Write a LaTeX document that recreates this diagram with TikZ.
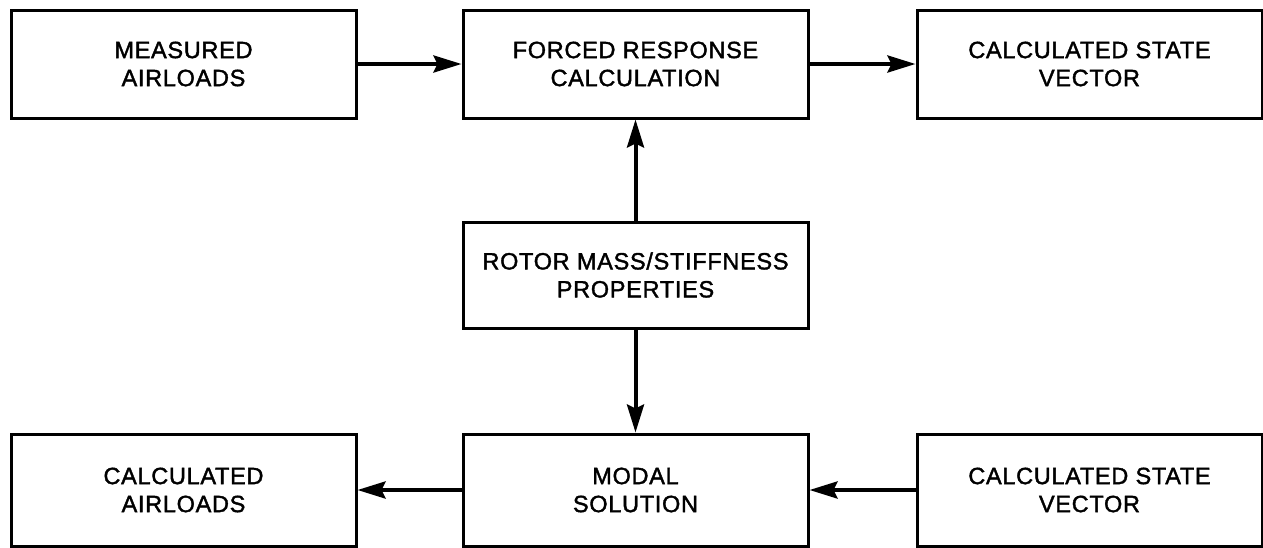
\documentclass[tikz,border=0pt]{standalone}
\usepackage{fontspec}
\setmainfont{Liberation Sans}[LetterSpace=3]
\newfontfamily\medfont{Liberation Sans}[LetterSpace=3, FakeBold=1.6]
\usetikzlibrary{arrows.meta}
\tikzset{
  blk/.style={draw=black, line width=3pt, fill=white, align=center,
    minimum width=345pt, minimum height=108pt, inner sep=0pt,
    font=\medfont\fontsize{23.5}{28}\selectfont},
  flow/.style={line width=4pt, -{Stealth[length=28pt, width=17pt, inset=4pt]}}
}
\begin{document}
\begin{tikzpicture}[x=1pt, y=-1pt]
  \useasboundingbox (0,0) rectangle (1263,547);
  % top row
  \node[blk] (meas)  at (183.5,64)  {MEASURED\\AIRLOADS};
  \node[blk] (force) at (635.5,64)  {FORCED RESPONSE\\CALCULATION};
  \node[blk] (state1) at (1089.5,64) {CALCULATED STATE\\VECTOR};
  % centre
  \node[blk, minimum height=106pt] (rotor) at (635.5,275) {ROTOR MASS/STIFFNESS\\PROPERTIES};
  % bottom row
  \node[blk, minimum height=112pt] (calc)  at (183.5,490) {CALCULATED\\AIRLOADS};
  \node[blk, minimum height=112pt] (modal) at (635.5,490) {MODAL\\SOLUTION};
  \node[blk, minimum height=112pt] (state2) at (1089.5,490) {CALCULATED STATE\\VECTOR};
  % connectors
  \draw[flow] (meas.east) -- (force.west);
  \draw[flow] (force.east) -- (state1.west);
  \draw[flow] (rotor.north) -- (force.south);
  \draw[flow] (rotor.south) -- (modal.north);
  \draw[flow] (modal.west) -- (calc.east);
  \draw[flow] (state2.west) -- (modal.east);
\end{tikzpicture}
\end{document}
